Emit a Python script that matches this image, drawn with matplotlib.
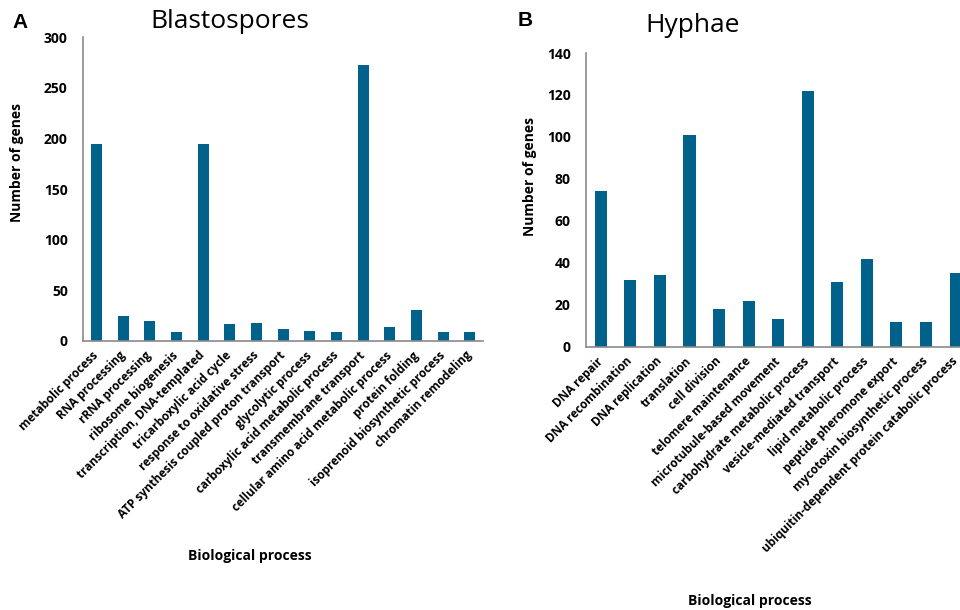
import numpy as np
import matplotlib
matplotlib.use("Agg")
import matplotlib.pyplot as plt

plt.rcParams['font.family'] = ['Open Sans', 'DejaVu Sans']

# Blastospores
blasto_terms = ["metabolic process", "RNA processing", "rRNA processing",
                "ribosome biogenesis", "transcription, DNA-templated",
                "tricarboxylic acid cycle", "response to oxidative stress",
                "ATP synthesis coupled proton transport", "glycolytic process",
                "carboxylic acid metabolic process", "transmembrane transport",
                "cellular amino acid metabolic process", "protein folding",
                "isoprenoid biosynthetic process", "chromatin remodeling"]
blasto_counts = [195, 25, 20, 9, 195, 17, 18, 12, 10, 9, 273, 14, 31, 9, 9]

# Hyphae
hyphae_terms = ["DNA repair", "DNA recombination", "DNA replication",
                "translation", "cell division", "telomere maintenance",
                "microtubule-based movement", "carbohydrate metabolic process",
                "vesicle-mediated transport", "lipid metabolic process",
                "peptide pheromone export", "mycotoxin biosynthetic process",
                "ubiquitin-dependent protein catabolic process"]
hyphae_counts = [74, 32, 34, 101, 18, 22, 13, 122, 31, 42, 12, 12, 35]

bar_color = '#00628B'
spine_color = '#8a8a8a'

fig = plt.figure(figsize=(9.6, 6.1), dpi=100)

def draw_panel(ax, terms, counts, ymax, ystep, xmax):
    x = np.arange(len(terms))
    ax.bar(x, counts, width=0.41, color=bar_color)
    ax.set_xlim(-0.5, xmax)
    ax.set_ylim(0, ymax)
    ax.set_yticks(np.arange(0, ymax + 1, ystep))
    ax.set_xticks(x)
    ax.set_xticklabels(terms, rotation=45, ha='right', va='center',
                       rotation_mode='anchor', fontsize=8.5, fontweight='bold')
    for lab in ax.get_yticklabels():
        lab.set_fontweight('bold')
    ax.tick_params(axis='y', length=0, pad=11, labelsize=10)
    ax.tick_params(axis='x', length=0, pad=9)
    for s in ['top', 'right']:
        ax.spines[s].set_visible(False)
    for s in ['left', 'bottom']:
        ax.spines[s].set_color(spine_color)
        ax.spines[s].set_linewidth(1.2)

ax1 = fig.add_axes([0.0865, 0.441, 0.4167, 0.498])
draw_panel(ax1, blasto_terms, blasto_counts, 300, 50, 14.5)

ax2 = fig.add_axes([0.6104, 0.4316, 0.3896, 0.4815])
draw_panel(ax2, hyphae_terms, hyphae_counts, 140, 20, 12.15)

# titles and labels
fig.text(230/960, 1 - 22/610, "Blastospores", fontsize=19, ha='center', va='center')
fig.text(693/960, 1 - 25/610, "Hyphae", fontsize=19, ha='center', va='center')
fig.text(20/960, 1 - 22/610, "A", fontsize=15, fontweight='bold', ha='center', va='center',
         family=['Liberation Sans', 'DejaVu Sans'])
fig.text(525/960, 1 - 20/610, "B", fontsize=15, fontweight='bold', ha='center', va='center',
         family=['Liberation Sans', 'DejaVu Sans'])

fig.text(17/960, 1 - 163/610, "Number of genes", rotation=90, fontsize=10,
         fontweight='bold', ha='center', va='center')
fig.text(530/960, 1 - 177/610, "Number of genes", rotation=90, fontsize=10,
         fontweight='bold', ha='center', va='center')

fig.text(250/960, 1 - 556/610, "Biological process", fontsize=10,
         fontweight='bold', ha='center', va='center')
fig.text(750/960, 1 - 601/610, "Biological process", fontsize=10,
         fontweight='bold', ha='center', va='center')

fig.savefig("out.png", dpi=100)
